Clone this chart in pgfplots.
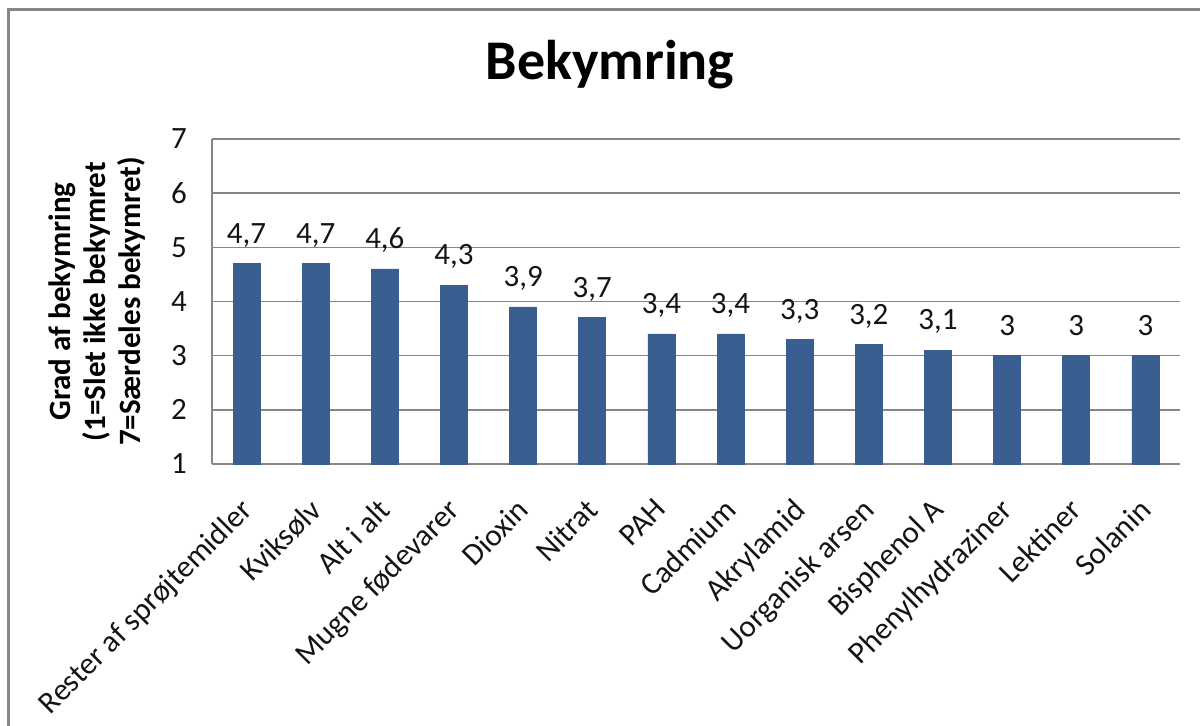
\documentclass[border=0pt]{standalone}
\usepackage{fontspec}
\setmainfont{Carlito}
\usepackage{pgfplots}
\pgfplotsset{compat=1.18}
\definecolor{barblue}{RGB}{56,95,143}
\definecolor{gridgray}{RGB}{134,134,134}
\definecolor{txt}{RGB}{20,20,20}

\begin{document}
\begin{tikzpicture}
\useasboundingbox (0,0) rectangle (600pt,363pt);
\begin{scope}
\clip (0,0) rectangle (600pt,363pt);
\draw[gridgray, line width=1.5pt] (4pt,-5pt) -- (4pt,358pt) -- (605pt,358pt);
\end{scope}
\node[anchor=base, font=\fontsize{28}{32}\selectfont\bfseries, text=black] at (305pt,323pt) {Bekymring};
\begin{axis}[
  at={(106pt,131pt)}, anchor=south west,
  width=484pt, height=162.5pt, scale only axis,
  xmin=-0.5, xmax=13.5, ymin=1, ymax=7,
  ytick={1,2,3,4,5,6,7},
  xtick=data,
  xticklabels={Rester af sprøjtemidler, Kviksølv, Alt i alt, Mugne fødevarer, Dioxin, Nitrat, PAH, Cadmium, Akrylamid, Uorganisk arsen, Bisphenol A, Phenylhydraziner, Lektiner, Solanin},
  ymajorgrids, grid style={gridgray, line width=0.75pt},
  axis x line*=bottom, axis y line*=left,
  axis line style={gridgray, line width=0.75pt, -},
  major tick length=0pt,
  /pgf/number format/use comma,
  /pgf/number format/assume math mode=true,
  yticklabel style={xshift=-9pt, font=\fontsize{15.5}{18}\selectfont, text=txt},
  xticklabel style={xshift=-4pt, rotate=45, anchor=north east, font=\fontsize{15.5}{18}\selectfont, text=txt},
  xticklabel shift=11.5pt,
  ylabel={Grad af bekymring\\(1=Slet ikke bekymret\\7=Særdeles bekymret)},
  ylabel style={at={(axis description cs:-0.062,0.5)}, anchor=south, rotate=0, align=center, font=\fontsize{15.5}{17.5}\selectfont\bfseries, text=black},
  ybar, bar width=13.5pt,
  nodes near coords={\pgfmathprintnumber[use comma, assume math mode=true]{\pgfplotspointmeta}},
  every node near coord/.append style={anchor=south, inner sep=0pt, text depth=0pt, yshift=10pt, font=\fontsize{15.5}{18}\selectfont, text=txt},
  clip=false,
]
\addplot[fill=barblue, draw=barblue] coordinates {
  (0,4.7) (1,4.7) (2,4.6) (3,4.3) (4,3.9) (5,3.7) (6,3.4)
  (7,3.4) (8,3.3) (9,3.2) (10,3.1) (11,3) (12,3) (13,3)
};
\end{axis}
\end{tikzpicture}
\end{document}
